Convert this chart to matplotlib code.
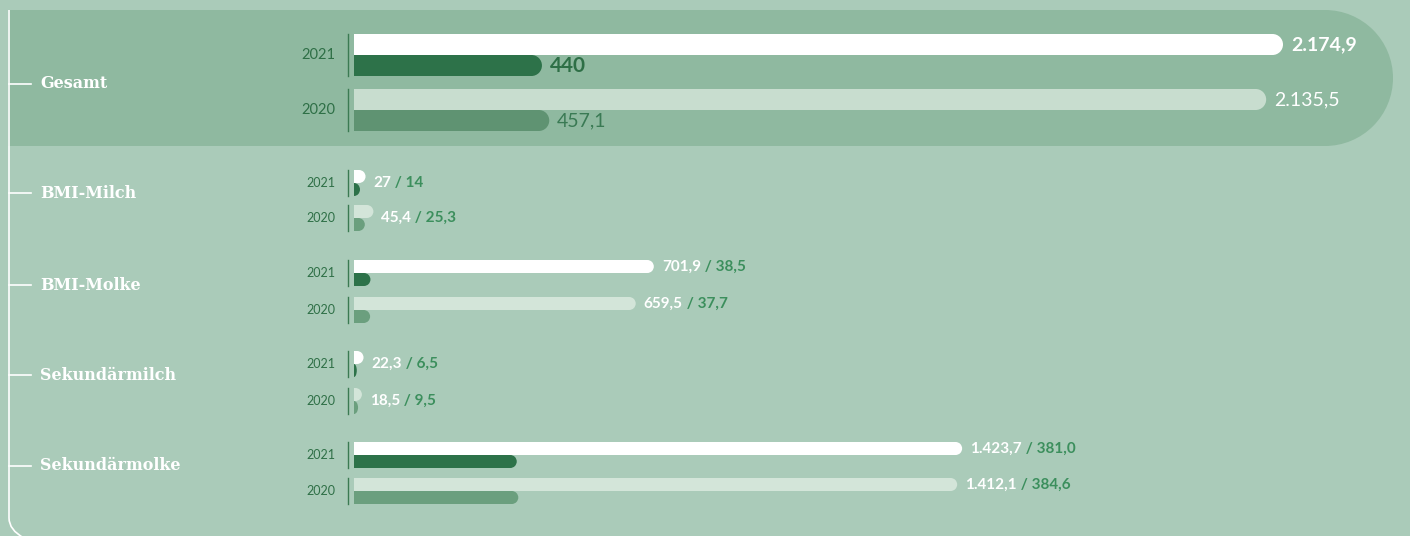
import matplotlib
matplotlib.use("Agg")
import matplotlib.pyplot as plt
from matplotlib.patches import Ellipse, Rectangle, Wedge
from matplotlib.path import Path
from matplotlib.patches import PathPatch

# data (Mio. kg)
categories = ["Gesamt", "BMI-Milch", "BMI-Molke", "Sekundärmilch", "Sekundärmolke"]
total_2021 = [2174.9, 27, 701.9, 22.3, 1423.7]
total_2020 = [2135.5, 45.4, 659.5, 18.5, 1412.1]
part_2021 = [440, 14, 38.5, 6.5, 381.0]
part_2020 = [457.1, 25.3, 37.7, 9.5, 384.6]
total_2021_txt = ["2.174,9", "27", "701,9", "22,3", "1.423,7"]
total_2020_txt = ["2.135,5", "45,4", "659,5", "18,5", "1.412,1"]
part_2021_txt = ["440", "14", "38,5", "6,5", "381,0"]
part_2020_txt = ["457,1", "25,3", "37,7", "9,5", "384,6"]
years = ["2021", "2020"]

# layout (pixels)
W, H = 1410, 536
x_zero = 354
px_per_unit = 929 / 2174.9
top_2021 = [34, 170, 260, 351, 442]
top_2020 = [89, 205, 297, 388, 478]
bar_h = [21, 13, 13, 13, 13]
label_y = [84, 193, 285, 375, 466]

BG = "#aacbb9"
BAND = "#8fb9a0"
WHITE = "#ffffff"
DARK = "#2d7249"
DKGREEN = "#2e6f46"
MIDGREEN = "#3c8f5d"
LIGHT_BG, LIGHT_BAND = "#d3e5d9", "#c8ddcf"
FADED_BG, FADED_BAND = "#6b9f7e", "#5f9372"

fig = plt.figure(figsize=(W / 100, H / 100), dpi=100)
fig.patch.set_facecolor(BG)

bg = fig.add_axes([0, 0, 1, 1])
bg.set_xlim(0, W)
bg.set_ylim(H, 0)
bg.axis("off")

ax = fig.add_axes([0, 0, 1, 1])
ax.set_xlim(-x_zero / px_per_unit, (W - x_zero) / px_per_unit)
ax.set_ylim(H, 0)
ax.axis("off")
ax.patch.set_alpha(0)

# highlight band for Gesamt
band_top, band_bot, band_right = 10, 146, 1393
r = (band_bot - band_top) / 2
bg.add_patch(Rectangle((8, band_top), band_right - r - 8, band_bot - band_top,
                       color=BAND, lw=0))
bg.add_patch(Wedge((band_right - r, band_top + r), r, -90, 90, color=BAND, lw=0))

# tree line on the left
verts = [(9, band_top), (9, 518), (9, 530), (24, 538)]
codes = [Path.MOVETO, Path.LINETO, Path.CURVE3, Path.CURVE3]
bg.add_patch(PathPatch(Path(verts, codes), fill=False, ec="white", lw=1.2))

clip_rect = Rectangle((0, 0), 1e5, H, transform=ax.transData)


def rbar(y_top, length, h, color):
    yc = y_top + h / 2
    rx = (h / 2) / px_per_unit
    rx = min(rx, length)
    ax.barh(yc, length - rx, height=h, left=0, color=color, lw=0)
    e = Ellipse((length - rx, yc), 2 * rx, h, color=color, lw=0)
    ax.add_patch(e)
    e.set_clip_path(clip_rect)


for i, cat in enumerate(categories):
    h = bar_h[i]
    on_band = i == 0
    light = LIGHT_BAND if on_band else LIGHT_BG
    faded = FADED_BAND if on_band else FADED_BG

    # category label with tick
    bg.plot([9, 31], [label_y[i], label_y[i]], color="white", lw=1.2)
    bg.text(40, label_y[i], cat, color="white", family="DejaVu Serif",
            fontsize=11.5, weight="bold", va="center")

    tops = [top_2021[i], top_2020[i]]
    for j, yr in enumerate(years):
        t = tops[j]
        bg.plot([348, 348], [t, t + 2 * h], color="#3b7a52", lw=1)
        bg.text(335, t + h, yr, family="Lato", fontsize=10.5 if on_band else 9,
                color=DKGREEN, ha="right", va="center")

    rbar(top_2021[i], total_2021[i], h, WHITE)
    rbar(top_2021[i] + h, part_2021[i], h, DARK)
    rbar(top_2020[i], total_2020[i], h, light)
    rbar(top_2020[i] + h, part_2020[i], h, faded)

    gap = 8 / px_per_unit
    if on_band:
        ax.text(total_2021[i] + gap, top_2021[i] + h / 2, total_2021_txt[i],
                family="Lato", weight="bold", fontsize=14, color="white", va="center")
        ax.text(part_2021[i] + gap, top_2021[i] + 1.5 * h, part_2021_txt[i],
                family="Lato", weight="bold", fontsize=15, color=DKGREEN, va="center")
        ax.text(total_2020[i] + gap, top_2020[i] + h / 2, total_2020_txt[i],
                family="Lato", fontsize=14, color="white", va="center")
        ax.text(part_2020[i] + gap, top_2020[i] + 1.5 * h, part_2020_txt[i],
                family="Lato", fontsize=14, color="#3a7a54", va="center")
    else:
        for tot, tt, pt, top in [(total_2021[i], total_2021_txt[i], part_2021_txt[i], top_2021[i]),
                                 (total_2020[i], total_2020_txt[i], part_2020_txt[i], top_2020[i])]:
            y = top + h / 2 if tot > 100 else top + h
            t1 = ax.text(tot + gap, y, tt, family="Lato", weight="bold",
                         fontsize=11, color="white", va="center")
            ax.annotate(" / " + pt, xy=(1, 0.5), xycoords=t1, family="Lato",
                        weight="bold", fontsize=11, color=MIDGREEN, va="center")

fig.savefig("out.png", dpi=100, facecolor=BG)
